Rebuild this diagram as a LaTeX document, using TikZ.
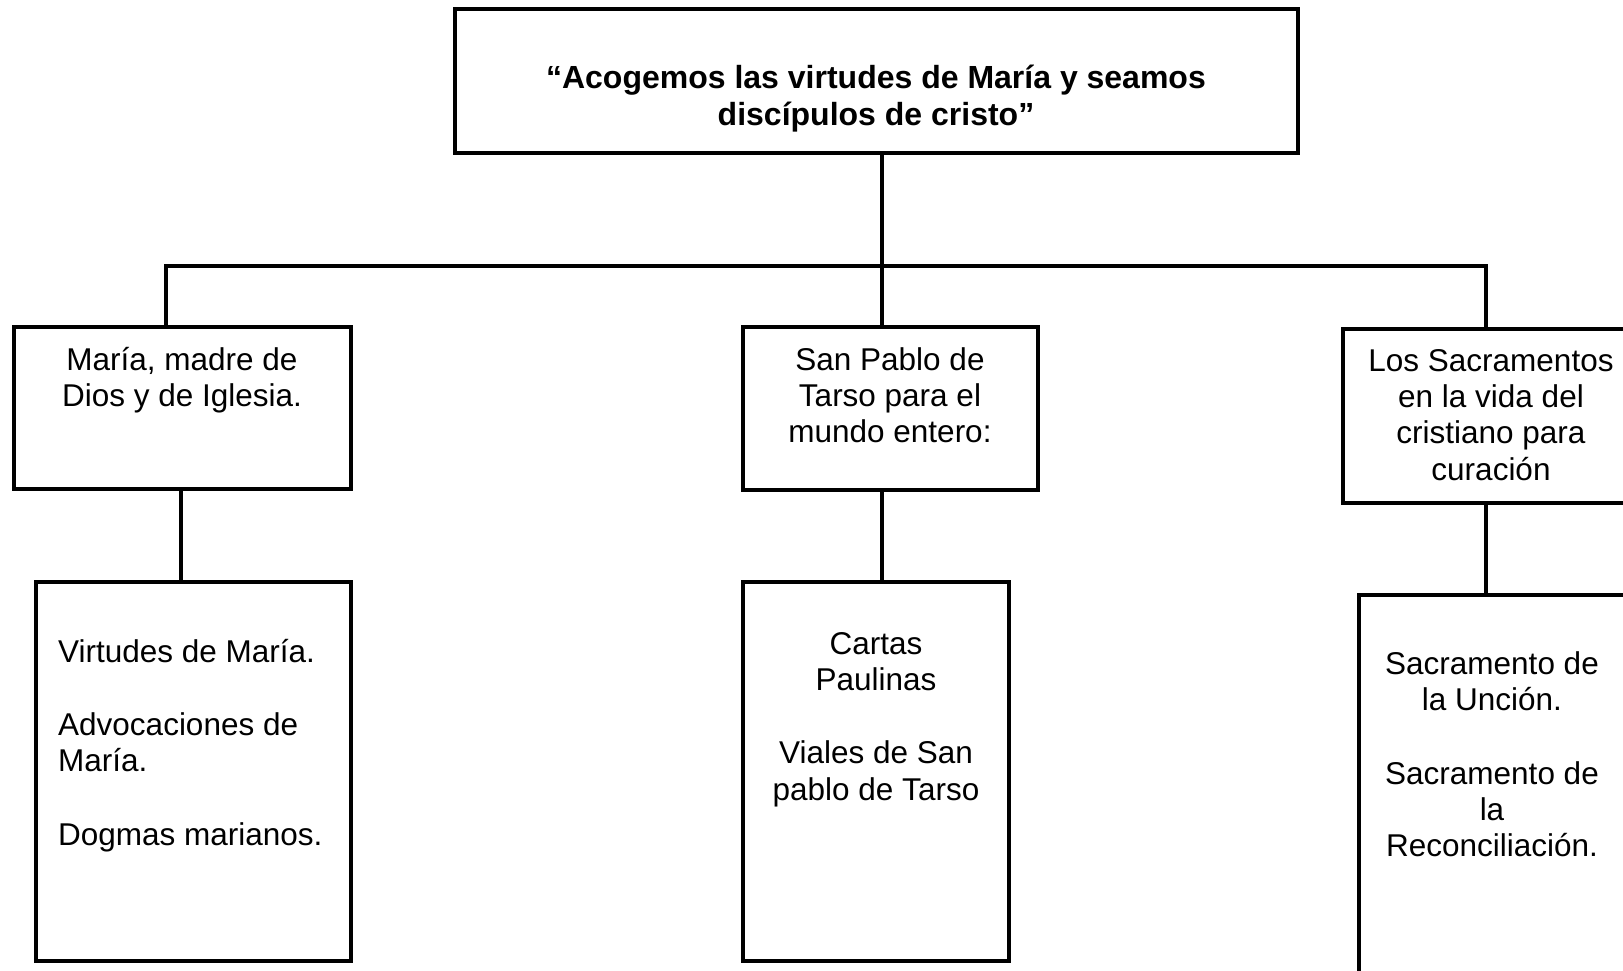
\documentclass[tikz,border=0pt]{standalone}
\usepackage{fontspec}
\setmainfont{Liberation Sans}
\begin{document}
\begin{tikzpicture}[x=1pt,y=-1pt,
  box/.style={draw=black,line width=4pt,minimum width=#1,inner sep=0pt,rectangle},
  conn/.style={line width=4pt,line join=miter,line cap=butt},
  txt/.style={inner sep=0pt,align=center,font=\fontsize{31.5}{36.2}\selectfont},
  ttl/.style={inner sep=0pt,align=center,font=\fontsize{32}{37}\selectfont\bfseries}]
\useasboundingbox (0,0) rectangle (1623,971);
% boxes
\node[box=843pt,minimum height=144pt] (top) at (876.5,81) {};
\node[box=337pt,minimum height=162pt] (A) at (182.5,408) {};
\node[box=295pt,minimum height=163pt] (B) at (890.5,408.5) {};
\node[box=296pt,minimum height=174pt] (C) at (1491,416) {};
\node[box=315pt,minimum height=379pt] (D) at (193.5,771.5) {};
\node[box=266pt,minimum height=379pt] (E) at (876,771.5) {};
\node[box=266pt,minimum height=405pt] (F) at (1492,797.5) {};
% texts
\node[ttl,anchor=north] (tT) at (876,62) {\strut“Acogemos las virtudes de María y seamos\\discípulos de cristo”};
\node[txt,anchor=north] (tA) at (182,345) {\strut María, madre de\\Dios y de Iglesia.};
\node[txt,anchor=north] (tB) at (890,345) {\strut San Pablo de\\Tarso para el\\mundo entero:};
\node[txt,anchor=north] (tC) at (1491,346) {\strut Los Sacramentos\\en la vida del\\cristiano para\\curación};
\node[txt,align=left,anchor=north west] (tD) at (58,637) {\strut Virtudes de María.\\[37pt]Advocaciones de\\María.\\[37pt]Dogmas marianos.};
\node[txt,anchor=north] (tE) at (876,629) {\strut Cartas\\Paulinas\\[37pt]Viales de San\\pablo de Tarso};
\node[txt,anchor=north] (tF) at (1492,649) {\strut Sacramento de\\la Unción.\\[37.5pt]Sacramento de\\la\\Reconciliación.};
% connectors
\coordinate (barL) at (166,266);
\coordinate (barM) at (882,266);
\coordinate (barR) at (1486,266);
\coordinate (ad) at (181,0);
\draw[conn] (top.south -| barM) -- (barM);
\draw[conn,line width=4.5pt] (A.north -| barL) -- (barL) -- (barR) -- (C.north -| barR);
\draw[conn] (barM) -- (B.north -| barM);
\draw[conn] (A.south -| ad) -- (D.north -| ad);
\draw[conn] (B.south -| barM) -- (E.north -| barM);
\draw[conn] (C.south -| barR) -- (F.north -| barR);
\end{tikzpicture}
\end{document}
